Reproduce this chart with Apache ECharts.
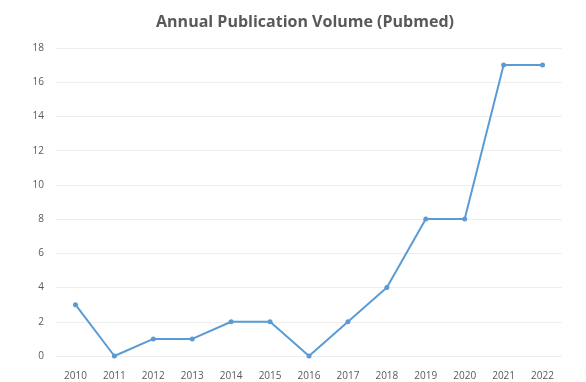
<!DOCTYPE html>
<html>
<head>
<meta charset="utf-8">
<script src="https://cdn.jsdelivr.net/npm/echarts@6/dist/echarts.min.js"></script>
<style>
html,body{margin:0;padding:0;background:#fff;}
#chart{width:586px;height:382px;}
</style>
</head>
<body>
<div id="chart"></div>
<script>
// 年份与发文量
var years = ['2010','2011','2012','2013','2014','2015','2016','2017','2018','2019','2020','2021','2022'];
var counts = [3, 0, 1, 1, 2, 2, 0, 2, 4, 8, 8, 17, 17];

var chart = echarts.init(document.getElementById('chart'));
var option = {
    animation: false,
    title: {
        text: 'Annual Publication Volume (Pubmed)',
        left: 300,
        textAlign: 'center',
        top: 9,
        textStyle: {
            fontFamily: 'Open Sans',
            fontSize: 16,
            fontWeight: 'bold',
            color: '#595959'
        }
    },
    grid: {
        left: 56,
        right: 24,
        top: 48,
        bottom: 26,
        containLabel: false
    },
    xAxis: {
        type: 'category',
        data: years,
        boundaryGap: true,
        axisLine: { show: false },
        axisTick: { show: false },
        axisLabel: {
            color: '#595959',
            fontSize: 10,
            fontFamily: 'Open Sans',
            margin: 15
        }
    },
    yAxis: {
        type: 'value',
        min: 0,
        max: 18,
        interval: 2,
        axisLine: { show: false },
        axisTick: { show: false },
        axisLabel: {
            color: '#595959',
            fontSize: 10,
            fontFamily: 'Open Sans',
            margin: 12
        },
        splitLine: {
            lineStyle: { color: '#eeeeee', width: 1 }
        }
    },
    series: [{
        name: 'Pubmed',
        type: 'line',
        data: counts,
        symbol: 'circle',
        symbolSize: 5,
        lineStyle: { color: '#5b9bd5', width: 2 },
        itemStyle: { color: '#5b9bd5' }
    }]
};
chart.setOption(option, true);
</script>
</body>
</html>
